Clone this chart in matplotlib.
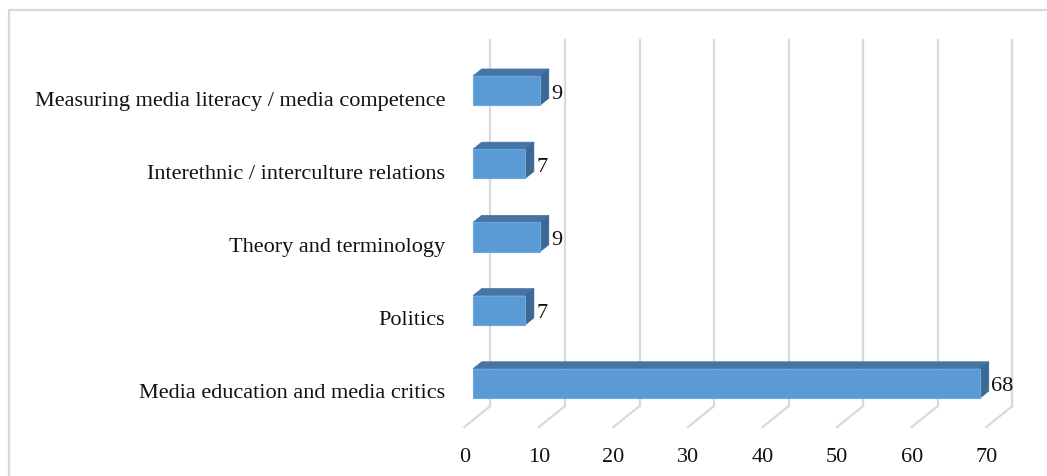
import matplotlib
matplotlib.use("Agg")
import matplotlib.pyplot as plt
from matplotlib.patches import Polygon, Rectangle
from matplotlib.lines import Line2D
from matplotlib.transforms import ScaledTranslation, IdentityTransform

categories = [
    "Media education and media critics",
    "Politics",
    "Theory and terminology",
    "Interethnic / interculture relations",
    "Measuring media literacy / media competence",
]
values = [68, 7, 9, 7, 9]
x_ticks = [0, 10, 20, 30, 40, 50, 60, 70]

FRONT = "#5B9BD5"
TOP = "#4675A5"
SIDE = "#3C6893"
GRID = "#D9D9D9"
FONT = "Liberation Serif"
TXT = "#111111"

W, H, DPI = 1047, 477, 100
fig = plt.figure(figsize=(W / DPI, H / DPI), dpi=DPI)
fig.patch.set_facecolor("white")

# outer chart frame (left and top edges visible)
fig.patches.append(Rectangle((9 / W, -0.1), 1.2, (H - 11) / H + 0.1,
                             transform=fig.transFigure, fill=False,
                             edgecolor=GRID, linewidth=1.6))

# axes placed on the plane of the bar front faces
ax = fig.add_axes([473 / W, 56 / H, 522 / W, 366 / H])
ax.set_xlim(0, 70)
ax.set_ylim(-0.5, len(categories) - 0.5)
ax.axis("off")

# depth steps in pixels (x right, y up): one slot = gap, bar, gap
slot = (8.7, 7.0)


def offset(dx_px, dy_px):
    return ax.transData + ScaledTranslation(dx_px / DPI, dy_px / DPI, fig.dpi_scale_trans)


def to_px(x, y, k=0.0):
    px, py = ax.transData.transform((x, y))
    return (px + k * slot[0], py + k * slot[1])


y0, y1 = ax.get_ylim()
ident = IdentityTransform()

# back wall gridlines and floor lines
for t in x_ticks:
    b0 = to_px(t, y0, 2)
    b1 = to_px(t, y1, 2)
    f0 = to_px(t, y0, -1)
    for (p, q) in ((b0, b1), (f0, b0)):
        ax.add_line(Line2D([p[0], q[0]], [p[1], q[1]], transform=ident,
                           color=GRID, linewidth=1.6, zorder=0, clip_on=False))
    ax.text(t, y0, str(t), transform=offset(-slot[0], -slot[1] - 27),
            ha="center", va="center_baseline", fontsize=16, family=FONT, color=TXT)

# 3D bars
bar_h = 0.4
for i, v in enumerate(values):
    lo, hi = i - bar_h / 2, i + bar_h / 2
    top = [to_px(0, hi), to_px(v, hi), to_px(v, hi, 1), to_px(0, hi, 1)]
    side = [to_px(v, lo), to_px(v, hi), to_px(v, hi, 1), to_px(v, lo, 1)]
    for pts, col in ((top, TOP), (side, SIDE)):
        ax.add_patch(Polygon(pts, closed=True, transform=ident, facecolor=col,
                             edgecolor=col, linewidth=0.5, zorder=2, clip_on=False))
    ax.add_patch(Rectangle((0, lo), v, bar_h, facecolor=FRONT, edgecolor="#6AA8DE",
                           linewidth=0.8, zorder=3, clip_on=False))
    ax.text(v, i, str(v), transform=offset(slot[0] + 2.5, 0),
            ha="left", va="center_baseline", fontsize=16, family=FONT, color=TXT, zorder=4)

# category labels on the front plane
for i, c in enumerate(categories):
    ax.text(0, i, c, transform=offset(-slot[0] - 19, -slot[1]),
            ha="right", va="center_baseline", fontsize=16, family=FONT, color=TXT)

fig.savefig("out.png", dpi=DPI, facecolor="white")
